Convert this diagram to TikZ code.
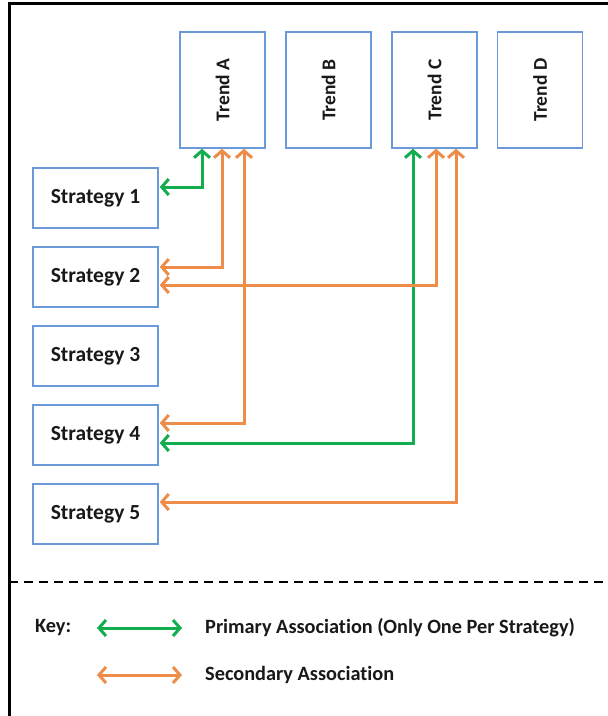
\documentclass[tikz,border=0pt]{standalone}
\usepackage{fontspec}
\setmainfont{Carlito}[Ligatures={NoCommon}]
\usetikzlibrary{arrows.meta}
\definecolor{boxblue}{HTML}{6A9BD8}
\definecolor{pgreen}{HTML}{12AD4E}
\definecolor{sorange}{HTML}{EE8C4A}
\tikzset{
  trendbox/.style={draw=boxblue, line width=1.5pt, minimum width=85pt, minimum height=116pt, inner sep=0pt, fill=white},
  stratbox/.style={draw=boxblue, line width=1.5pt, minimum width=125pt, minimum height=60pt, inner sep=0pt, fill=white},
  lbl/.style={font=\fontsize{19.5}{22}\selectfont\bfseries, text=black!90},
  slbl/.style={font=\fontsize{21.5}{24}\selectfont\bfseries, text=black!90},
  klbl/.style={font=\fontsize{20.3}{24}\selectfont\bfseries, text=black!90},
  assoc/.style={line width=3pt, {Straight Barb[length=7pt,width=16pt,line width=3pt]}-{Straight Barb[length=7pt,width=16pt,line width=3pt]}},
  pri/.style={assoc, draw=pgreen},
  sec/.style={assoc, draw=sorange},
  frameline/.style={line width=3pt, black},
}
\begin{document}
\begin{tikzpicture}[x=1pt,y=-1pt]
\useasboundingbox (0,0) rectangle (608,716);
\fill[white] (0,0) rectangle (608,716);
% frame
\draw[frameline] (8,3) -- (608,3);
\draw[frameline] (9,3) -- (9,716);
\draw[line width=2pt, dash pattern=on 9pt off 6pt] (9,582) -- (608,582);
% trends
\node[trendbox] (tA) at (222.5,90) {};
\node[trendbox] (tB) at (328.5,90) {};
\node[trendbox] (tC) at (434.5,90) {};
\node[trendbox] (tD) at (540,90) {};
\node[lbl, rotate=90] at (tA) {Trend A};
\node[lbl, rotate=90] at (tB) {Trend B};
\node[lbl, rotate=90] at (tC) {Trend C};
\node[lbl, rotate=90] at (tD) {Trend D};
% strategies
\node[stratbox, slbl] (s1) at (95.5,198) {Strategy 1};
\node[stratbox, slbl] (s2) at (95.5,277) {Strategy 2};
\node[stratbox, slbl] (s3) at (95.5,356) {Strategy 3};
\node[stratbox, slbl] (s4) at (95.5,435) {Strategy 4};
\node[stratbox, slbl] (s5) at (95.5,514) {Strategy 5};
% connectors
\draw[pri] ([xshift=-20.5pt]tA.south) |- ([yshift=11pt,xshift=1pt]s1.east);
\draw[sec] ([xshift=-0.5pt]tA.south) |- ([yshift=10pt,xshift=1pt]s2.east);
\draw[sec] ([xshift=21.5pt]tA.south) |- ([yshift=12pt,xshift=1pt]s4.east);
\draw[pri] ([xshift=-21.5pt]tC.south) |- ([yshift=-8pt,xshift=1pt]s4.east);
\draw[sec] ([xshift=1.5pt]tC.south) |- ([yshift=-8pt,xshift=1pt]s2.east);
\draw[sec] ([xshift=21.5pt]tC.south) |- ([yshift=12pt,xshift=1pt]s5.east);
% key
\node[klbl, anchor=west, inner sep=0pt] (key) at (35,628) {Key:};
\coordinate (pa1) at (97,628);
\coordinate (pa2) at (182,628);
\draw[pri] (pa1) -- (pa2);
\node[klbl, anchor=west, inner sep=0pt] (ptext) at (205,628) {Primary Association (Only One Per Strategy)};
\coordinate (sa1) at (97,675);
\coordinate (sa2) at (182,675);
\draw[sec] (sa1) -- (sa2);
\node[klbl, anchor=west, inner sep=0pt] (stext) at (205,675) {Secondary Association};
\end{tikzpicture}
\end{document}
